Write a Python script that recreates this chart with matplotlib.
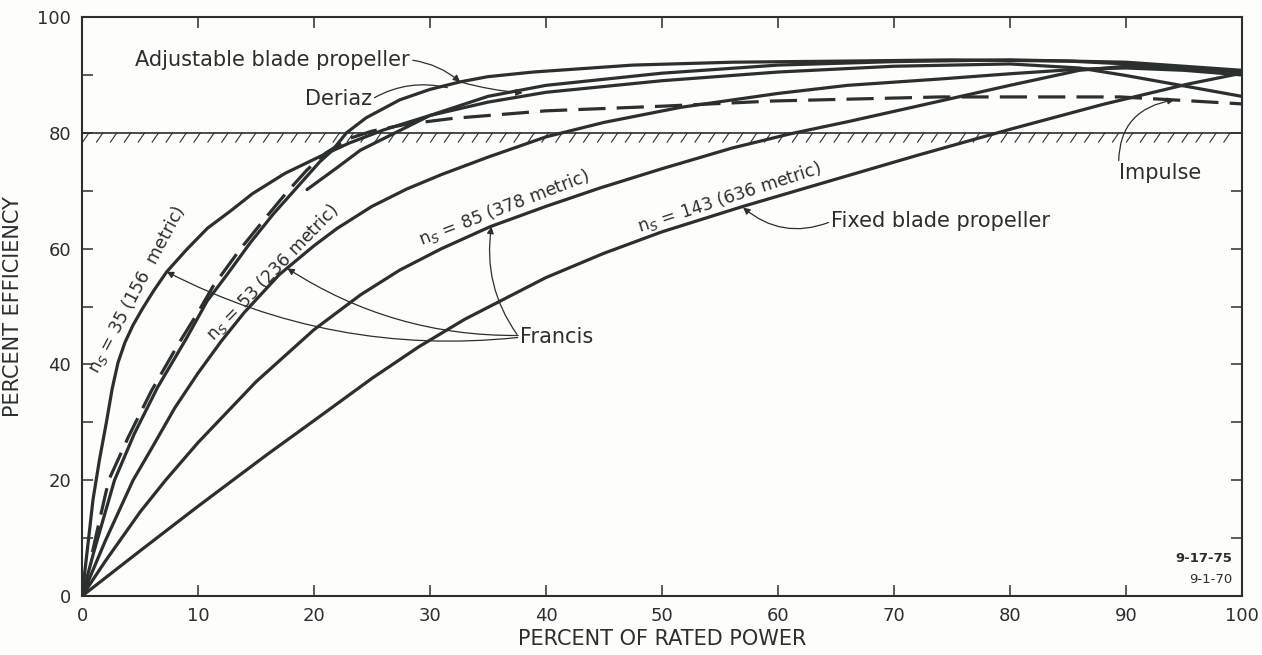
import matplotlib
matplotlib.use("Agg")
import matplotlib.pyplot as plt
import numpy as np

# ---------------- data ----------------
x_ns35 = [0, 0.4, 0.95, 1.5, 2.1, 2.6, 3.1, 3.7, 4.4, 5.2, 6.2, 7.3, 9, 10.8, 12.8, 14.7, 17.5, 20.5, 23, 26, 30, 35, 40, 50, 60, 70, 80, 86, 90, 95.3, 100]
y_ns35 = [0, 7, 16.7, 23.5, 30, 35.8, 40.3, 43.8, 46.8, 49.6, 52.8, 56, 59.8, 63.5, 66.5, 69.5, 73, 75.9, 78.2, 80.5, 83, 85.3, 87, 89, 90.5, 91.5, 91.9, 91.2, 89.9, 88, 86.3]

x_adj = [0, 1, 2.8, 4.5, 6.5, 9, 10.8, 12.5, 14.5, 16.5, 18.5, 20.5, 21.6, 22.8, 24.5, 27.4, 30, 32.6, 35, 38.9, 47.5, 56.1, 66.2, 75, 85, 92, 100]
y_adj = [0, 7.5, 20, 28, 36, 44.5, 51, 55.5, 61, 66, 70.5, 75, 77, 80, 82.6, 85.7, 87.5, 88.8, 89.7, 90.5, 91.7, 92.2, 92.4, 92.6, 92.4, 91.7, 90.5]

x_imp = [0.9, 1.5, 2.3, 4, 6, 8.3, 10, 11.3, 13.6, 15.9, 17.6, 19.4, 21, 23, 25, 28, 32, 40, 50, 59.6, 74, 89.5, 94, 100]
y_imp = [7.6, 13, 20, 27.5, 35.5, 43.5, 49, 53.5, 59.8, 65.5, 69.6, 73.6, 76.5, 79, 80.3, 81.5, 82.5, 83.8, 84.6, 85.5, 86.2, 86.2, 85.7, 85]

x_der = [19.4, 22, 24, 26.3, 30, 35, 40, 50, 60, 70, 80, 90, 100]
y_der = [70.2, 74, 77, 79.3, 83, 86.3, 88.2, 90.3, 91.7, 92.3, 92.6, 92.2, 90.8]

x_ns53 = [0, 2, 4.4, 6, 8, 10, 12, 14, 17, 20, 22, 25, 28, 31, 35, 40, 45, 51.6, 60, 66, 74, 80, 86, 90, 95, 100]
y_ns53 = [0, 9.5, 20, 25.5, 32.5, 38.5, 44, 49, 55.5, 60.5, 63.5, 67.3, 70.3, 72.8, 75.8, 79.3, 81.8, 84.4, 86.8, 88.2, 89.3, 90.2, 91, 91.2, 90.8, 90]

x_ns85 = [0, 2, 5, 7.2, 10, 15, 20, 24, 27.4, 31, 35.2, 40, 44.7, 50, 56.1, 61, 66.2, 72, 80, 86, 90, 95, 100]
y_ns85 = [0, 6, 14.5, 20, 26.5, 37, 46, 52, 56.3, 60, 63.8, 67.3, 70.5, 73.8, 77.4, 79.8, 82, 84.6, 88.2, 90.8, 91.5, 91.3, 90.5]

x_ns143 = [0, 5, 10, 13, 16, 20, 25, 29, 33, 40, 45, 50, 57, 65, 72, 80, 88, 95.3, 100]
y_ns143 = [0, 7.8, 15.5, 20, 24.5, 30.3, 37.6, 43, 47.8, 55, 59.2, 62.9, 67.3, 72, 76.1, 80.6, 84.9, 88.4, 90.3]

x_ticks = [0, 10, 20, 30, 40, 50, 60, 70, 80, 90, 100]
y_major = [0, 20, 40, 60, 80, 100]
y_minor = [10, 30, 50, 70, 90]
hatch_level = 80

# ---------------- figure ----------------
ink = "#2b2f2e"
bg = "#fdfdfb"
fig = plt.figure(figsize=(12.62, 6.55), dpi=100, facecolor=bg)
ax = fig.add_axes([0.065, 0.09, 0.919, 0.884], facecolor=bg)
ax.set_xlim(0, 100)
ax.set_ylim(0, 100)

lw = 2.3
for xs, ys in [(x_ns35, y_ns35), (x_adj, y_adj), (x_der, y_der), (x_ns53, y_ns53),
               (x_ns85, y_ns85), (x_ns143, y_ns143)]:
    ax.plot(xs, ys, color=ink, lw=lw, solid_capstyle="round", solid_joinstyle="round")
ax.plot(x_imp, y_imp, color=ink, lw=lw, dashes=(8.5, 3.5))

# 80 % line with hatching
ax.axhline(hatch_level, color=ink, lw=1.2)
hx = np.arange(0.6, 100, 1.2)
for h in hx:
    ax.plot([h - 0.55, h], [hatch_level - 1.6, hatch_level], color=ink, lw=0.8)

# ticks
ax.set_xticks(x_ticks)
ax.set_xticklabels([str(t) for t in x_ticks])
ax.set_yticks(y_major)
ax.set_yticklabels([str(t) for t in y_major])
ax.set_yticks(y_minor, minor=True)
ax.tick_params(axis="both", which="both", direction="in", top=True, right=True,
               length=8, width=1.1, color=ink, labelcolor=ink, labelsize=13, pad=8)
for s in ax.spines.values():
    s.set_color(ink)
    s.set_linewidth(1.5)

ax.set_xlabel("PERCENT OF RATED POWER", fontsize=15, color=ink, labelpad=3)
ax.set_ylabel("PERCENT EFFICIENCY", fontsize=15, color=ink, labelpad=10)

# curve labels
tk = dict(color=ink, fontsize=12.5, ha="center", va="center", rotation_mode="anchor")
ax.text(4.7, 52.9, "n$_S$ = 35 (156  metric)", rotation=62, **tk)
ax.text(16.4, 55.9, "n$_S$ = 53 (236 metric)", rotation=46, **tk)
ax.text(36.4, 67.0, "n$_S$ = 85 (378 metric)", rotation=21, **tk)
ax.text(55.8, 68.8, "n$_S$ = 143 (636 metric)", rotation=18, **tk)

ann = dict(color=ink, fontsize=15)
ap = dict(arrowstyle="-|>", color=ink, lw=0.9, mutation_scale=10, shrinkA=0, shrinkB=0)
ax.annotate("Adjustable blade propeller", xy=(32.6, 88.8), xytext=(4.6, 92.6),
            va="center", ha="left", arrowprops=dict(ap, connectionstyle="arc3,rad=-0.15", relpos=(1, 0.5)), **ann)
ax.annotate("", xy=(38.0, 86.9), xytext=(32.6, 88.8),
            arrowprops=dict(ap, connectionstyle="arc3,rad=0.05"))
ax.annotate("Deriaz", xy=(31.5, 87.8), xytext=(19.2, 85.8), va="center", ha="left",
            arrowprops=dict(ap, arrowstyle="-", connectionstyle="arc3,rad=-0.2", relpos=(1, 0.5)), **ann)
ax.annotate("Francis", xy=(7.3, 56.0), xytext=(37.8, 44.7), va="center", ha="left",
            arrowprops=dict(ap, connectionstyle="arc3,rad=-0.15", relpos=(0, 0.5)), **ann)
ax.annotate("", xy=(17.7, 56.6), xytext=(37.6, 45.0),
            arrowprops=dict(ap, connectionstyle="arc3,rad=-0.15"))
ax.annotate("", xy=(35.3, 63.8), xytext=(37.5, 45.2),
            arrowprops=dict(ap, connectionstyle="arc3,rad=-0.2"))
ax.annotate("Fixed blade propeller", xy=(57.0, 67.1), xytext=(64.6, 64.7), va="center", ha="left",
            arrowprops=dict(ap, connectionstyle="arc3,rad=-0.3", relpos=(0, 0.5)), **ann)
ax.annotate("Impulse", xy=(94.2, 85.7), xytext=(89.4, 73.0), va="center", ha="left",
            arrowprops=dict(ap, connectionstyle="arc3,rad=-0.45", relpos=(0, 0.7)), **ann)

ax.text(99.2, 6.4, "9-17-75", fontsize=9.5, fontweight="bold", color=ink, ha="right", va="center")
ax.text(99.2, 2.8, "9-1-70", fontsize=9.5, color=ink, ha="right", va="center")

fig.savefig("out.png", dpi=100, facecolor=bg)
